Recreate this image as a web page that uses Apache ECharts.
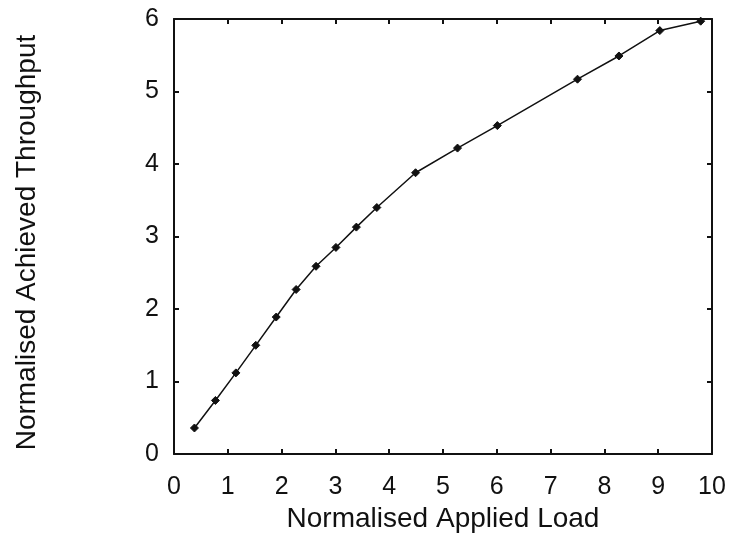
<!DOCTYPE html>
<html>
<head>
<meta charset="utf-8">
<title>Normalised Achieved Throughput vs Applied Load</title>
<script src="https://cdn.jsdelivr.net/npm/echarts@6/dist/echarts.min.js"></script>
<style>
  html, body { margin: 0; padding: 0; background: #fff; }
  #chart { width: 732px; height: 538px; }
</style>
</head>
<body>
<div id="chart"></div>
<script>
// Measured load points and the throughput achieved at each
const appliedLoad = [0.38, 0.77, 1.15, 1.52, 1.90, 2.27, 2.64, 3.01, 3.39, 3.77, 4.49, 5.27, 6.01, 7.50, 8.27, 9.03, 9.79];
const achievedThroughput = [0.36, 0.74, 1.12, 1.50, 1.89, 2.27, 2.59, 2.85, 3.13, 3.40, 3.88, 4.22, 4.53, 5.17, 5.49, 5.84, 5.97];

const xTicks = [0, 1, 2, 3, 4, 5, 6, 7, 8, 9, 10];
const yTicks = [0, 1, 2, 3, 4, 5, 6];

const FONT = '"Liberation Sans", Arial, Helvetica, sans-serif';
const INK = '#111';

const points = appliedLoad.map((x, i) => [x, achievedThroughput[i]]);

const frameLine = { show: true, onZero: false, lineStyle: { color: INK, width: 2 } };
const innerTick = { show: true, inside: true, length: 5, lineStyle: { color: INK, width: 2 } };

const chart = echarts.init(document.getElementById('chart'), null, { renderer: 'canvas' });

chart.setOption({
  animation: false,
  backgroundColor: '#fff',
  grid: { left: 174, right: 20, top: 19, bottom: 81, containLabel: false },
  xAxis: [
    {
      type: 'value',
      position: 'bottom',
      min: xTicks[0],
      max: xTicks[xTicks.length - 1],
      interval: 1,
      name: 'Normalised Applied Load',
      nameLocation: 'middle',
      nameGap: 48,
      nameTextStyle: { fontFamily: FONT, fontSize: 28, color: INK },
      axisLine: frameLine,
      axisTick: innerTick,
      axisLabel: { fontFamily: FONT, fontSize: 25, color: INK, margin: 21 },
      splitLine: { show: false }
    },
    {
      type: 'value',
      position: 'top',
      min: xTicks[0],
      max: xTicks[xTicks.length - 1],
      interval: 1,
      axisLine: frameLine,
      axisTick: innerTick,
      axisLabel: { show: false },
      splitLine: { show: false }
    }
  ],
  yAxis: [
    {
      type: 'value',
      position: 'left',
      min: yTicks[0],
      max: yTicks[yTicks.length - 1],
      interval: 1,
      name: 'Normalised Achieved Throughput',
      nameLocation: 'middle',
      nameRotate: 90,
      nameGap: 133,
      nameTextStyle: { fontFamily: FONT, fontSize: 28, color: INK, padding: [0, 12, 0, 0] },
      axisLine: frameLine,
      axisTick: innerTick,
      axisLabel: { fontFamily: FONT, fontSize: 25, color: INK, margin: 15 },
      splitLine: { show: false }
    },
    {
      type: 'value',
      position: 'right',
      min: yTicks[0],
      max: yTicks[yTicks.length - 1],
      interval: 1,
      axisLine: frameLine,
      axisTick: innerTick,
      axisLabel: { show: false },
      splitLine: { show: false }
    }
  ],
  series: [
    {
      type: 'line',
      data: points,
      xAxisIndex: 0,
      yAxisIndex: 0,
      symbol: 'diamond',
      symbolSize: 8,
      lineStyle: { color: INK, width: 1.5 },
      itemStyle: { color: INK, borderColor: INK, borderWidth: 1 }
    }
  ]
});
</script>
</body>
</html>
